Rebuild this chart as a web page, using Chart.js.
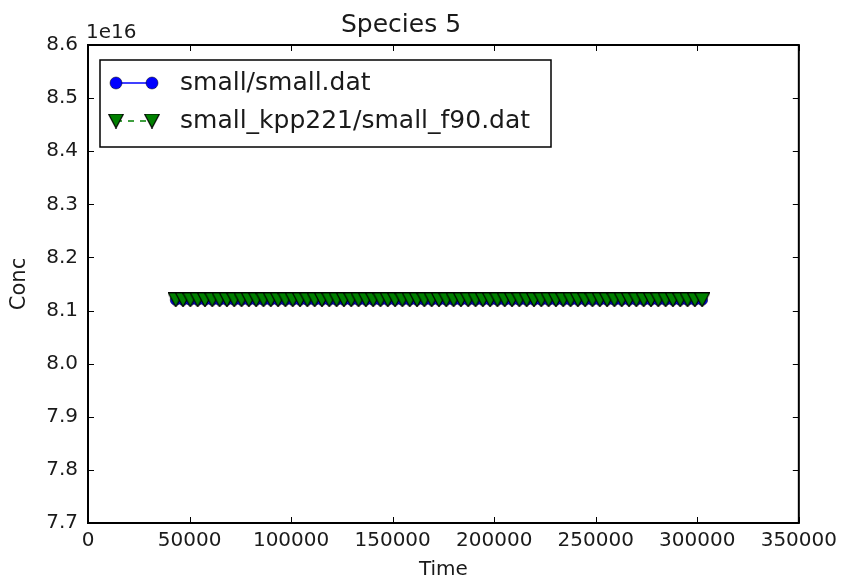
<!DOCTYPE html>
<html>
<head>
<meta charset="utf-8">
<script src="https://cdn.jsdelivr.net/npm/chart.js@4/dist/chart.umd.min.js"></script>
<style>
  html, body { margin: 0; padding: 0; background: #fff; }
  canvas { display: block; }
</style>
</head>
<body>
<canvas id="c" width="843" height="586"></canvas>
<script>
// Model output times (s)
const times = [
  43200, 46800, 50400, 54000, 57600, 61200, 64800, 68400, 72000, 75600,
  79200, 82800, 86400, 90000, 93600, 97200, 100800, 104400, 108000, 111600,
  115200, 118800, 122400, 126000, 129600, 133200, 136800, 140400, 144000, 147600,
  151200, 154800, 158400, 162000, 165600, 169200, 172800, 176400, 180000, 183600,
  187200, 190800, 194400, 198000, 201600, 205200, 208800, 212400, 216000, 219600,
  223200, 226800, 230400, 234000, 237600, 241200, 244800, 248400, 252000, 255600,
  259200, 262800, 266400, 270000, 273600, 277200, 280800, 284400, 288000, 291600,
  295200, 298800, 302400
];

// Species 5 concentration, small/small.dat
const concSmall = [
  8.12e16, 8.12e16, 8.12e16, 8.12e16, 8.12e16, 8.12e16, 8.12e16, 8.12e16, 8.12e16, 8.12e16,
  8.12e16, 8.12e16, 8.12e16, 8.12e16, 8.12e16, 8.12e16, 8.12e16, 8.12e16, 8.12e16, 8.12e16,
  8.12e16, 8.12e16, 8.12e16, 8.12e16, 8.12e16, 8.12e16, 8.12e16, 8.12e16, 8.12e16, 8.12e16,
  8.12e16, 8.12e16, 8.12e16, 8.12e16, 8.12e16, 8.12e16, 8.12e16, 8.12e16, 8.12e16, 8.12e16,
  8.12e16, 8.12e16, 8.12e16, 8.12e16, 8.12e16, 8.12e16, 8.12e16, 8.12e16, 8.12e16, 8.12e16,
  8.12e16, 8.12e16, 8.12e16, 8.12e16, 8.12e16, 8.12e16, 8.12e16, 8.12e16, 8.12e16, 8.12e16,
  8.12e16, 8.12e16, 8.12e16, 8.12e16, 8.12e16, 8.12e16, 8.12e16, 8.12e16, 8.12e16, 8.12e16,
  8.12e16, 8.12e16, 8.12e16
];

// Species 5 concentration, small_kpp221/small_f90.dat
const concF90 = [
  8.12e16, 8.12e16, 8.12e16, 8.12e16, 8.12e16, 8.12e16, 8.12e16, 8.12e16, 8.12e16, 8.12e16,
  8.12e16, 8.12e16, 8.12e16, 8.12e16, 8.12e16, 8.12e16, 8.12e16, 8.12e16, 8.12e16, 8.12e16,
  8.12e16, 8.12e16, 8.12e16, 8.12e16, 8.12e16, 8.12e16, 8.12e16, 8.12e16, 8.12e16, 8.12e16,
  8.12e16, 8.12e16, 8.12e16, 8.12e16, 8.12e16, 8.12e16, 8.12e16, 8.12e16, 8.12e16, 8.12e16,
  8.12e16, 8.12e16, 8.12e16, 8.12e16, 8.12e16, 8.12e16, 8.12e16, 8.12e16, 8.12e16, 8.12e16,
  8.12e16, 8.12e16, 8.12e16, 8.12e16, 8.12e16, 8.12e16, 8.12e16, 8.12e16, 8.12e16, 8.12e16,
  8.12e16, 8.12e16, 8.12e16, 8.12e16, 8.12e16, 8.12e16, 8.12e16, 8.12e16, 8.12e16, 8.12e16,
  8.12e16, 8.12e16, 8.12e16
];

const seriesLabels = ['small/small.dat', 'small_kpp221/small_f90.dat'];

const xTickValues = [0, 50000, 100000, 150000, 200000, 250000, 300000, 350000];
const xTickLabels = ['0', '50000', '100000', '150000', '200000', '250000', '300000', '350000'];
const yTickValues = [7.7e16, 7.8e16, 7.9e16, 8.0e16, 8.1e16, 8.2e16, 8.3e16, 8.4e16, 8.5e16, 8.6e16];
const yTickLabels = ['7.7', '7.8', '7.9', '8.0', '8.1', '8.2', '8.3', '8.4', '8.5', '8.6'];
const yOffsetLabel = '1e16';

const FONT = 'DejaVu Sans';
const TEXT = '#1a1a1a';
const BLUE = '#0000ff';
const GREEN = '#008000';

const toPoints = (xs, ys) => xs.map((x, i) => ({ x: x, y: ys[i] }));

// Downward triangle marker filling its whole box, black edged
function makeTriangleDown(w, h, fill, edge) {
  const cv = document.createElement('canvas');
  cv.width = w; cv.height = h;
  const c = cv.getContext('2d');
  c.beginPath();
  c.moveTo(0.5, 0.5);
  c.lineTo(w - 0.5, 0.5);
  c.lineTo(w / 2, h - 0.5);
  c.closePath();
  c.fillStyle = fill;
  c.fill();
  c.lineWidth = edge;
  c.strokeStyle = '#000';
  c.stroke();
  return cv;
}
const triDown = makeTriangleDown(16, 15, GREEN, 1.2);

// Frame, inward ticks on all four sides, offset label and legend
const framePlugin = {
  id: 'frame',
  afterDraw(chart) {
    const { ctx, chartArea: a, scales: { x, y } } = chart;
    const tl = 6;
    ctx.save();
    ctx.strokeStyle = '#000';
    ctx.lineWidth = 1;
    ctx.beginPath();
    xTickValues.forEach(v => {
      const px = Math.round(x.getPixelForValue(v)) + 0.5;
      ctx.moveTo(px, a.bottom); ctx.lineTo(px, a.bottom - tl);
      ctx.moveTo(px, a.top); ctx.lineTo(px, a.top + tl);
    });
    yTickValues.forEach(v => {
      const py = Math.round(y.getPixelForValue(v)) + 0.5;
      ctx.moveTo(a.left, py); ctx.lineTo(a.left + tl, py);
      ctx.moveTo(a.right, py); ctx.lineTo(a.right - tl, py);
    });
    ctx.stroke();

    ctx.lineWidth = 2;
    ctx.strokeRect(a.left, a.top, a.right - a.left, a.bottom - a.top);

    // scale offset text above the y axis
    ctx.fillStyle = TEXT;
    ctx.font = '20px "' + FONT + '"';
    ctx.textAlign = 'left';
    ctx.textBaseline = 'alphabetic';
    ctx.fillText(yOffsetLabel, a.left - 2, a.top - 7);

    // legend box
    const bx = 100, by = 60, bw = 451, bh = 87;
    ctx.fillStyle = '#fff';
    ctx.fillRect(bx, by, bw, bh);
    ctx.lineWidth = 1.5;
    ctx.strokeStyle = '#000';
    ctx.strokeRect(bx, by, bw, bh);

    const rowsY = [83, 121];
    const x0 = 116, x1 = 152;
    chart.data.datasets.forEach((ds, i) => {
      const ry = rowsY[i];
      ctx.save();
      ctx.strokeStyle = ds.borderColor;
      ctx.lineWidth = ds.borderWidth;
      ctx.setLineDash(ds.borderDash || []);
      ctx.beginPath();
      ctx.moveTo(x0, ry); ctx.lineTo(x1, ry);
      ctx.stroke();
      ctx.restore();
      const opts = {
        pointStyle: ds.pointStyle,
        rotation: 0,
        radius: i === 0 ? 6 : ds.pointRadius,
        borderWidth: ds.pointBorderWidth
      };
      [x0, x1].forEach(px => {
        ctx.fillStyle = ds.pointBackgroundColor;
        ctx.strokeStyle = ds.pointBorderColor;
        ctx.lineWidth = ds.pointBorderWidth;
        Chart.helpers.drawPoint(ctx, opts, px, ry);
      });

      ctx.fillStyle = TEXT;
      ctx.font = '25px "' + FONT + '"';
      ctx.textAlign = 'left';
      ctx.textBaseline = 'middle';
      ctx.fillText(ds.label, 180, ry);
    });
    ctx.restore();
  }
};

new Chart(document.getElementById('c'), {
  type: 'line',
  data: {
    datasets: [
      {
        label: seriesLabels[0],
        data: toPoints(times, concSmall),
        borderColor: BLUE,
        borderWidth: 1.5,
        pointStyle: 'circle',
        pointRadius: 5.5,
        pointBackgroundColor: BLUE,
        pointBorderColor: '#000',
        pointBorderWidth: 0.5,
        order: 2
      },
      {
        label: seriesLabels[1],
        data: toPoints(times, concF90),
        borderColor: GREEN,
        borderWidth: 1.5,
        borderDash: [6, 6],
        pointStyle: triDown,
        pointRadius: 8,
        pointBackgroundColor: GREEN,
        pointBorderColor: '#000',
        pointBorderWidth: 0.5,
        order: 1
      }
    ]
  },
  options: {
    responsive: false,
    animation: false,
    devicePixelRatio: 1,
    layout: { padding: { left: 0, right: 41, top: 0, bottom: 0 } },
    plugins: {
      legend: { display: false },
      tooltip: { enabled: false },
      title: {
        display: true,
        text: 'Species 5',
        color: TEXT,
        font: { family: FONT, size: 25, weight: 'normal', lineHeight: 1.2 },
        padding: { top: 10, bottom: 5 }
      }
    },
    scales: {
      x: {
        type: 'linear',
        min: 0,
        max: 350000,
        grid: { display: false, drawTicks: false },
        border: { display: false },
        afterBuildTicks: s => { s.ticks = xTickValues.map(v => ({ value: v })); },
        afterFit: s => { s.height = 63; },
        ticks: {
          autoSkip: false,
          maxRotation: 0,
          padding: 6,
          color: TEXT,
          font: { family: FONT, size: 20 },
          callback: (v, i) => xTickLabels[i]
        },
        title: {
          display: true,
          text: 'Time',
          color: TEXT,
          font: { family: FONT, size: 20 },
          padding: { top: 4, bottom: 4 }
        }
      },
      y: {
        type: 'linear',
        min: 7.7e16,
        max: 8.6e16,
        grid: { display: false, drawTicks: false },
        border: { display: false },
        afterBuildTicks: s => { s.ticks = yTickValues.map(v => ({ value: v })); },
        afterFit: s => { s.width = 88; },
        ticks: {
          autoSkip: false,
          padding: 10,
          color: TEXT,
          font: { family: FONT, size: 20 },
          callback: (v, i) => yTickLabels[i]
        },
        title: {
          display: true,
          text: 'Conc',
          color: TEXT,
          font: { family: FONT, size: 21 },
          padding: { top: 7, bottom: 7 }
        }
      }
    }
  },
  plugins: [framePlugin]
});
</script>
</body>
</html>
